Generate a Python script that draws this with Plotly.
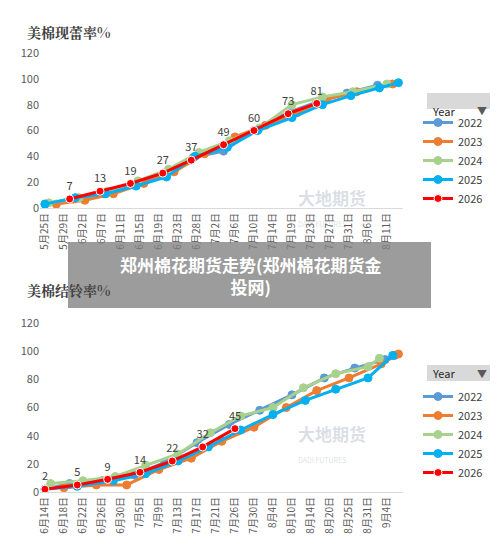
import plotly.graph_objects as go

# ---- top chart: 美棉现蕾率 ----
top_ticks = ["5月25日", "5月29日", "6月2日", "6月7日", "6月11日", "6月15日", "6月19日",
             "6月23日", "6月28日", "7月2日", "7月6日", "7月10日", "7月14日", "7月19日",
             "7月23日", "7月27日", "7月31日", "8月6日", "8月11日"]

top_x_2022 = [0, 1.5, 3.1, 4.6, 6.2, 7.8, 9.4, 11.0, 12.8, 14.3, 15.9, 17.5]
top_y_2022 = [3, 7, 11, 18, 25, 39, 44, 60, 74, 82, 89, 95]
top_x_2023 = [0.6, 2.1, 3.6, 5.2, 6.8, 8.4, 10.0, 11.6, 13.3, 14.8, 16.4, 18.3]
top_y_2023 = [3, 6, 11, 19, 28, 42, 55, 64, 74, 84, 90, 96]
top_x_2024 = [0.2, 1.8, 3.3, 4.9, 6.5, 8.1, 9.7, 11.3, 13.0, 14.6, 16.2, 18.0]
top_y_2024 = [4, 8, 13, 21, 30, 43, 52, 62, 80, 86, 90, 96]
top_x_2025 = [0, 1.6, 3.2, 4.8, 6.4, 7.9, 9.6, 11.2, 13.0, 14.6, 16.1, 17.6, 18.6]
top_y_2025 = [3, 8, 11, 17, 24, 40, 47, 60, 70, 80, 87, 93, 97]
top_x_2026 = [1.3, 2.9, 4.5, 6.2, 7.7, 9.4, 11.0, 12.8, 14.3]
top_y_2026 = [7, 13, 19, 27, 37, 49, 60, 73, 81]

# ---- bottom chart: 美棉结铃率 ----
bot_ticks = ["6月14日", "6月18日", "6月22日", "6月26日", "6月30日", "7月5日", "7月9日",
             "7月13日", "7月17日", "7月21日", "7月26日", "7月30日", "8月4日", "8月10日",
             "8月14日", "8月20日", "8月25日", "8月31日", "9月4日"]

bot_x_2022 = [0, 1.3, 3.0, 4.7, 6.3, 8.0, 9.7, 11.3, 13.0, 14.7, 16.3, 17.9, 18.4]
bot_y_2022 = [2, 6, 8, 12, 21, 35, 48, 58, 69, 81, 88, 94, 97]
bot_x_2023 = [1.0, 2.7, 4.3, 6.0, 7.7, 9.3, 11.0, 12.7, 14.3, 16.0, 17.7, 18.6]
bot_y_2023 = [3, 5, 5, 16, 24, 36, 46, 60, 72, 81, 91, 98]
bot_x_2024 = [0.3, 2.0, 3.7, 5.3, 7.0, 8.7, 10.3, 12.0, 13.6, 15.3, 17.0, 17.6]
bot_y_2024 = [6, 8, 11, 19, 27, 42, 54, 60, 74, 84, 89, 95]
bot_x_2025 = [0, 1.7, 3.6, 5.3, 7.0, 8.6, 10.3, 12.0, 13.7, 15.3, 17.0, 18.3]
bot_y_2025 = [2, 4, 8, 13, 22, 32, 44, 55, 65, 73, 81, 97]
bot_x_2026 = [0, 1.7, 3.3, 5.0, 6.7, 8.3, 10.0]
bot_y_2026 = [2, 5, 9, 14, 22, 32, 45]

colors = {"2022": "#5B9BD5", "2023": "#ED7D31", "2024": "#A9D18E",
          "2025": "#00B0F0", "2026": "#FF0000"}

W, H, OFF = 500, 551, 8   # page has an 8px body margin


def px(x):
    return (x - OFF) / W


def py(y):
    return 1 - (y - OFF) / H


fig = go.Figure()

series_top = [("2022", top_x_2022, top_y_2022), ("2023", top_x_2023, top_y_2023),
              ("2024", top_x_2024, top_y_2024), ("2025", top_x_2025, top_y_2025),
              ("2026", top_x_2026, top_y_2026)]
series_bot = [("2022", bot_x_2022, bot_y_2022), ("2023", bot_x_2023, bot_y_2023),
              ("2024", bot_x_2024, bot_y_2024), ("2025", bot_x_2025, bot_y_2025),
              ("2026", bot_x_2026, bot_y_2026)]

for axes, series, leg in [(("x", "y"), series_top, "legend"), (("x2", "y2"), series_bot, "legend2")]:
    for name, xs, ys in series:
        red = name == "2026"
        fig.add_trace(go.Scatter(
            x=xs, y=ys, name=name, xaxis=axes[0], yaxis=axes[1], legend=leg,
            mode="lines+markers+text" if red else "lines+markers",
            text=[str(v) for v in ys] if red else None,
            textposition="top center", textfont=dict(size=11, color="#404040"),
            line=dict(color=colors[name], width=3),
            marker=dict(size=8, color=colors[name],
                        line=dict(color="white" if red else colors[name], width=1)),
        ))

axis_common = dict(range=[-0.26, 18.84], tickmode="array", tickvals=list(range(19)),
                   tickangle=-90, showgrid=False, showline=True, linecolor="#d9d9d9",
                   tickfont=dict(size=10, color="#595959"), zeroline=False, automargin=False)
yaxis_common = dict(range=[0, 120], dtick=20, showgrid=False, zeroline=False, automargin=False,
                    tickfont=dict(size=11, color="#595959"))

leg_common = dict(bgcolor="rgba(0,0,0,0)", font=dict(size=11, color="#404040"),
                  itemwidth=30, tracegroupgap=4, xanchor="left", yanchor="top")

fig.update_layout(
    width=W, height=H, margin=dict(l=0, r=0, t=0, b=0),
    plot_bgcolor="white", paper_bgcolor="white",
    font=dict(family="Noto Sans CJK SC"),
    xaxis=dict(domain=[px(40), px(403)], ticktext=top_ticks, anchor="y", **axis_common),
    yaxis=dict(domain=[py(208), py(53)], anchor="x", **yaxis_common),
    xaxis2=dict(domain=[px(40), px(403)], ticktext=bot_ticks, anchor="y2", **axis_common),
    yaxis2=dict(domain=[py(492), py(323)], anchor="x2", **yaxis_common),
    legend=dict(x=px(418), y=py(108), **leg_common),
    legend2=dict(x=px(418), y=py(382), **leg_common),
)

# legend headers "Year"
for top in [93, 365]:
    fig.add_shape(type="rect", xref="paper", yref="paper", x0=px(427), x1=px(490),
                  y0=py(top + 16), y1=py(top), fillcolor="#d9d9d9", line=dict(width=0))
    fig.add_annotation(xref="paper", yref="paper", x=px(430), y=py(top + 8), text="Year",
                       showarrow=False, xanchor="left", font=dict(size=11, color="#262626"))
    fig.add_annotation(xref="paper", yref="paper", x=px(489), y=py(top + 8), text="▼",
                       showarrow=False, xanchor="right", font=dict(size=10, color="#595959"))

# chart titles
title_font = dict(size=14, color="#404040", family="Noto Serif CJK SC, Noto Sans CJK SC")
fig.add_annotation(xref="paper", yref="paper", x=px(25), y=py(20), text="<b>美棉现蕾率%</b>",
                   showarrow=False, xanchor="left", font=title_font)
fig.add_annotation(xref="paper", yref="paper", x=px(25), y=py(290), text="<b>美棉结铃率%</b>",
                   showarrow=False, xanchor="left", font=title_font)

# watermarks
for wy in [183, 467]:
    fig.add_annotation(xref="paper", yref="paper", x=px(332), y=py(wy),
                       text="<b>大地期货</b><br><span style='font-size:7px'>DADI FUTURES</span>",
                       showarrow=False, xanchor="center", align="left",
                       font=dict(size=17, color="rgba(150,160,180,0.35)"))

# overlay banner
fig.add_shape(type="rect", xref="paper", yref="paper", x0=px(68), x1=px(431), y0=py(308), y1=py(242),
              fillcolor="rgba(128,128,128,0.78)", line=dict(width=0), layer="above")
fig.add_annotation(xref="paper", yref="paper", x=px(250), y=py(275),
                   text="<b>郑州棉花期货走势(郑州棉花期货金<br>投网)</b>", showarrow=False,
                   font=dict(size=17, color="white"), align="center")

fig.write_html("out.html")
